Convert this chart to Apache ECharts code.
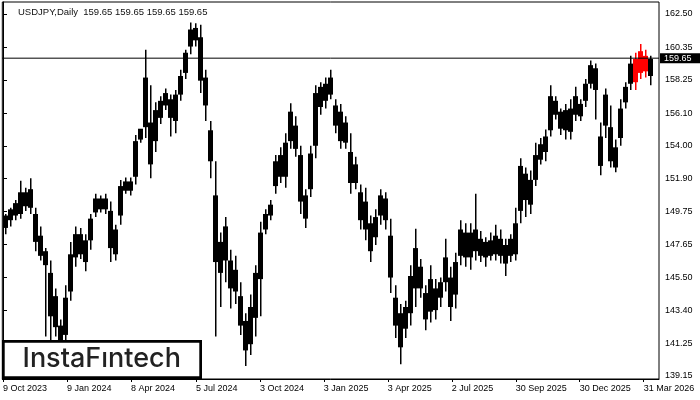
<!DOCTYPE html>
<html><head><meta charset="utf-8">
<script src="https://cdn.jsdelivr.net/npm/echarts@6/dist/echarts.min.js"></script>
<style>html,body{margin:0;padding:0;background:#fff}#c{width:700px;height:400px}</style>
</head><body><div id="c"></div>
<script>
// USDJPY daily, grouped in blocks of 5 trading days
const blockBars = 5;
const lows = [
148.3,148.8,149.2,149.3,149.8,149.6,147.2,146.6,141.7,141.3,
141.7,140.3,140.8,144.0,146.2,146.7,145.9,147.3,149.4,149.7,
149.6,146.5,146.6,148.9,150.9,150.8,151.5,154.2,154.5,151.9,
153.6,155.4,156.3,154.6,154.8,156.9,158.3,159.9,160.4,157.4,
155.6,151.9,141.7,143.6,145.2,143.5,143.8,141.8,139.8,140.5,
141.7,143.0,148.3,149.2,150.9,151.6,151.3,153.8,153.3,149.6,
148.7,150.7,153.2,156.0,156.4,157.0,154.8,153.8,153.8,150.9,
151.2,148.6,147.9,146.5,147.6,148.9,148.6,144.5,141.6,139.9,
141.6,142.4,143.6,144.2,142.1,142.6,142.8,143.6,144.6,142.7,
143.5,146.3,146.2,146.0,146.6,146.5,146.2,146.6,146.6,146.4,
145.6,146.5,146.6,149.0,149.4,149.6,151.4,152.8,153.0,154.6,
155.7,154.7,154.4,154.4,155.6,155.6,156.5,157.7,155.7,152.1,
154.5,152.6,152.3,154.0,156.4,157.6,157.6,158.3,158.4,157.9];
const bodyLows = [
148.7,149.2,149.5,149.6,150.1,150.0,147.8,146.9,146.3,143.0,
142.3,141.0,141.8,144.6,146.8,147.0,146.5,147.9,149.7,149.9,
149.9,147.4,147.0,149.5,151.1,151.1,152.0,154.4,155.2,152.8,
154.3,155.8,156.6,155.8,155.6,157.3,158.7,160.4,160.8,158.2,
156.6,153.0,146.5,145.8,146.6,144.8,144.6,142.4,140.8,141.2,
142.9,145.4,148.6,149.5,151.4,152.0,152.0,154.3,153.8,150.4,
149.3,151.2,154.0,156.5,156.9,157.3,155.3,154.3,154.2,151.6,
151.6,149.2,148.6,147.2,148.1,149.5,149.2,145.5,142.4,141.0,
142.2,143.2,144.8,144.8,142.8,143.3,143.4,144.2,145.2,143.6,
144.4,146.9,146.8,146.8,147.2,146.9,146.8,146.9,147.0,146.9,
146.4,146.9,147.0,149.8,150.5,150.2,151.8,153.1,153.6,155.0,
156.0,155.1,155.0,154.9,156.0,155.9,156.9,158.0,157.6,152.7,
155.3,153.0,152.6,154.5,156.8,158.0,158.1,158.7,158.8,158.5];
const bodyHighs = [
149.5,149.9,150.3,151.0,151.0,151.2,149.6,148.2,147.2,145.8,
144.3,142.4,144.2,147.0,148.3,148.3,147.9,149.3,150.6,150.6,
150.6,149.8,148.6,151.4,151.7,151.7,154.3,155.1,158.4,155.5,
156.3,156.9,157.4,157.0,157.3,158.5,160.0,161.5,161.6,161.0,
158.4,155.0,150.8,147.8,148.8,146.6,146.0,144.3,142.7,143.6,
145.8,148.4,149.6,150.2,153.0,153.4,154.2,156.2,155.3,153.4,
150.8,153.5,157.4,157.8,158.0,158.4,156.6,156.2,155.5,153.6,
152.8,151.0,150.4,149.0,149.4,150.8,150.6,148.2,144.2,143.2,
143.6,145.6,147.4,146.2,144.5,145.4,144.8,145.2,146.8,145.5,
146.5,148.6,148.4,148.4,148.6,148.0,147.8,147.9,148.2,148.0,
147.6,148.0,149.0,152.7,152.2,151.8,153.4,154.1,154.6,157.2,
156.9,156.2,156.3,156.4,157.2,156.7,158.0,159.2,159.0,154.6,
157.3,155.2,153.9,156.4,157.8,159.3,159.6,160.1,159.8,159.6];
const highs = [
149.6,150.0,150.5,151.75,151.3,151.9,150.0,148.8,147.4,146.6,
144.8,142.8,145.0,147.8,148.8,148.7,148.3,149.6,150.9,150.8,
150.9,150.4,148.9,151.8,151.95,151.95,154.7,154.9,160.2,157.9,
156.8,157.2,157.7,157.3,157.6,158.9,160.2,161.95,161.9,161.8,
158.9,155.6,153.0,148.4,149.4,147.3,146.9,145.2,143.2,144.4,
146.3,149.1,149.9,150.5,153.4,153.9,154.8,156.75,155.9,154.0,
151.2,154.0,157.9,158.1,158.4,158.9,157.0,156.7,155.9,154.8,
153.3,151.5,151.3,149.5,149.9,151.2,151.0,149.3,145.0,143.8,
144.0,146.3,148.65,146.7,145.0,146.3,145.4,145.5,148.0,146.2,
147.1,149.2,149.0,149.0,150.9,148.5,148.1,148.4,148.9,148.6,
148.0,148.3,150.0,153.2,152.6,152.4,154.2,154.5,155.05,157.9,
157.2,156.4,156.7,157.0,157.8,157.0,158.3,159.5,159.3,155.5,
157.7,156.6,154.4,157.0,158.1,159.8,160.0,160.56,160.2,159.8];
const redBlocks = [126,127,128];
const priceTicks = [139.15,141.25,143.40,145.50,147.65,149.75,151.90,154.00,156.10,158.25,160.35,162.50];
const dateTickBars = [0,64,128,193,257,321,385,449,513,577,641];
const dateTickLabels = ['9 Oct 2023','9 Jan 2024','8 Apr 2024','5 Jul 2024','3 Oct 2024','3 Jan 2025','3 Apr 2025','2 Jul 2025','30 Sep 2025','30 Dec 2025','31 Mar 2026'];
const lastPrice = 159.65;
const titleText = 'USDJPY,Daily  159.65 159.65 159.65 159.65';

const X_MIN = -0.7, X_MAX = 656.3;
const FONT = "'Liberation Sans', Arial, sans-serif";

const blocks = lows.map((l, i) => [i * blockBars, l, bodyLows[i], bodyHighs[i], highs[i], redBlocks.indexOf(i) >= 0 ? 1 : 0]);

const chart = echarts.init(document.getElementById('c'), null, {renderer: 'canvas'});
chart.setOption({
  animation: false,
  backgroundColor: '#fff',
  title: {
    text: titleText, left: 18, top: 7, padding: 0,
    textStyle: {fontSize: 9.5, fontWeight: 'normal', color: '#111', fontFamily: FONT}
  },
  grid: {left: 2, right: 41, top: 2, bottom: 21, show: true, borderColor: '#000', borderWidth: 1, backgroundColor: 'transparent'},
  xAxis: {
    type: 'value', min: X_MIN, max: X_MAX,
    axisLine: {show: true, lineStyle: {color: '#000', width: 1}},
    axisTick: {show: true, length: 3, lineStyle: {color: '#000'}, customValues: dateTickBars},
    axisLabel: {
      customValues: dateTickBars, align: 'left', margin: 5,
      fontSize: 9, fontFamily: FONT, color: '#000',
      formatter: v => dateTickLabels[dateTickBars.indexOf(v)] || ''
    },
    splitLine: {show: false}
  },
  yAxis: {
    type: 'value', position: 'right', min: 138.956, max: 163.274, scale: true,
    axisLine: {show: true, lineStyle: {color: '#000', width: 1}},
    axisTick: {show: true, length: 4, lineStyle: {color: '#000'}, customValues: priceTicks},
    axisLabel: {
      customValues: priceTicks, margin: 6,
      fontSize: 9, fontFamily: FONT, color: '#000',
      formatter: v => v.toFixed(2)
    },
    splitLine: {show: false}
  },
  series: [
    {
      type: 'custom',
      data: blocks,
      encode: {x: 0, y: [1, 4]},
      clip: true,
      renderItem: function (params, api) {
        const x0 = api.value(0);
        const xl = Math.round(api.coord([x0, 150])[0]);
        const xr = Math.round(api.coord([x0 + blockBars, 150])[0]);
        const yL = api.coord([x0, api.value(1)])[1];
        const yBL = api.coord([x0, api.value(2)])[1];
        const yBH = api.coord([x0, api.value(3)])[1];
        const yH = api.coord([x0, api.value(4)])[1];
        const color = api.value(5) ? '#ff0000' : '#000000';
        const xc = Math.round((xl + xr) / 2);
        return {
          type: 'group',
          children: [
            {type: 'rect', shape: {x: xl, y: yBH, width: xr - xl, height: Math.max(1, yBL - yBH)}, style: {fill: color}},
            {type: 'rect', shape: {x: xc - 1, y: yH, width: 1.5, height: Math.max(1, yL - yH)}, style: {fill: color}}
          ]
        };
      }
    },
    {
      type: 'line',
      data: [[X_MIN, lastPrice], [X_MAX, lastPrice]],
      showSymbol: false, symbol: 'none',
      lineStyle: {color: '#000', width: 1},
      z: 5,
      endLabel: {
        show: true, formatter: lastPrice.toFixed(2), distance: 1,
        backgroundColor: '#000', color: '#fff', padding: [1, 9, 0, 4],
        fontSize: 9, fontFamily: FONT
      }
    }
  ],
  graphic: [
    {type: 'rect', z: 100, shape: {x: 3.35, y: 341.35, width: 197.3, height: 36.3},
     style: {fill: '#fff', stroke: '#000', lineWidth: 2.7}},
    {type: 'text', z: 101, x: 101.7, y: 359,
     style: {text: 'InstaFıntech', fill: '#222', font: "500 27px Inter, 'Noto Sans', sans-serif", textAlign: 'center', textVerticalAlign: 'middle'}}
  ]
});
</script></body></html>
